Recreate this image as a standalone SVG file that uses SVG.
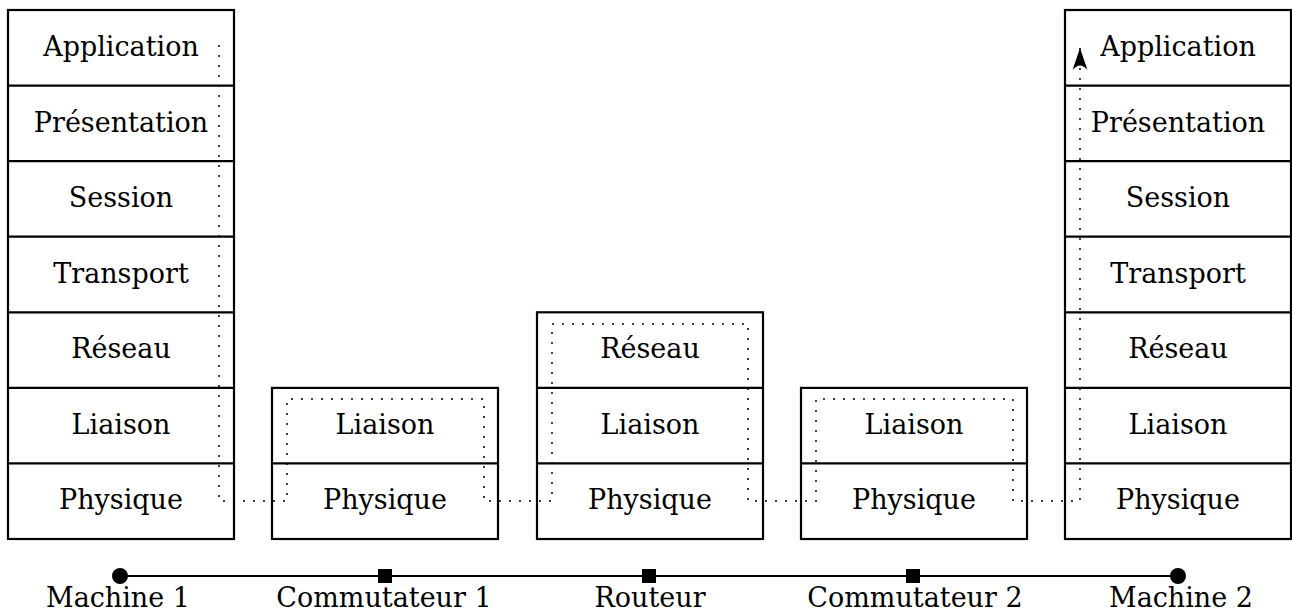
<svg xmlns="http://www.w3.org/2000/svg" width="1292" height="613" viewBox="0 0 1292 613">
<style>
.box{fill:#fff;stroke:#000;stroke-width:2.2}
.sep{stroke:#000;stroke-width:2.2}
.t{font-family:'DejaVu Serif',serif;font-size:27px;fill:#000;text-anchor:middle}
.dot{fill:none;stroke:#000;stroke-width:2;stroke-dasharray:0 10;stroke-linecap:round}
.net{stroke:#000;stroke-width:2}
</style>
<defs>
<marker id="ah" viewBox="0 0 22 16" refX="22" refY="8" markerWidth="22" markerHeight="16" orient="auto" markerUnits="userSpaceOnUse">
<path d="M22,8 L0,0.5 Q9,8 0,15.5 Z" fill="#000"/>
</marker>
</defs>
<rect width="1292" height="613" fill="#fff"/>
<g id="machine1">
<rect class="box" x="8" y="10" width="226" height="529"/>
<line class="sep" x1="8" y1="85.6" x2="234" y2="85.6"/>
<line class="sep" x1="8" y1="161.1" x2="234" y2="161.1"/>
<line class="sep" x1="8" y1="236.7" x2="234" y2="236.7"/>
<line class="sep" x1="8" y1="312.3" x2="234" y2="312.3"/>
<line class="sep" x1="8" y1="387.9" x2="234" y2="387.9"/>
<line class="sep" x1="8" y1="463.4" x2="234" y2="463.4"/>
<text class="t" x="121" y="56">Application</text>
<text class="t" x="121" y="132">Présentation</text>
<text class="t" x="121" y="207">Session</text>
<text class="t" x="121" y="283">Transport</text>
<text class="t" x="121" y="358">Réseau</text>
<text class="t" x="121" y="434">Liaison</text>
<text class="t" x="121" y="509">Physique</text>
</g>
<g id="commutateur1">
<rect class="box" x="272" y="387.9" width="226" height="151.1"/>
<line class="sep" x1="272" y1="463.4" x2="498" y2="463.4"/>
<text class="t" x="385" y="434">Liaison</text>
<text class="t" x="385" y="509">Physique</text>
</g>
<g id="routeur">
<rect class="box" x="537" y="312.3" width="226" height="226.7"/>
<line class="sep" x1="537" y1="387.9" x2="763" y2="387.9"/>
<line class="sep" x1="537" y1="463.4" x2="763" y2="463.4"/>
<text class="t" x="650" y="358">Réseau</text>
<text class="t" x="650" y="434">Liaison</text>
<text class="t" x="650" y="509">Physique</text>
</g>
<g id="commutateur2">
<rect class="box" x="801" y="387.9" width="226" height="151.1"/>
<line class="sep" x1="801" y1="463.4" x2="1027" y2="463.4"/>
<text class="t" x="914" y="434">Liaison</text>
<text class="t" x="914" y="509">Physique</text>
</g>
<g id="machine2">
<rect class="box" x="1065" y="10" width="226" height="529"/>
<line class="sep" x1="1065" y1="85.6" x2="1291" y2="85.6"/>
<line class="sep" x1="1065" y1="161.1" x2="1291" y2="161.1"/>
<line class="sep" x1="1065" y1="236.7" x2="1291" y2="236.7"/>
<line class="sep" x1="1065" y1="312.3" x2="1291" y2="312.3"/>
<line class="sep" x1="1065" y1="387.9" x2="1291" y2="387.9"/>
<line class="sep" x1="1065" y1="463.4" x2="1291" y2="463.4"/>
<text class="t" x="1178" y="56">Application</text>
<text class="t" x="1178" y="132">Présentation</text>
<text class="t" x="1178" y="207">Session</text>
<text class="t" x="1178" y="283">Transport</text>
<text class="t" x="1178" y="358">Réseau</text>
<text class="t" x="1178" y="434">Liaison</text>
<text class="t" x="1178" y="509">Physique</text>
</g>
<g id="connectors">
<path class="dot" d="M219,46 V501 H287 V399 H484 V501 H552 V324 H748 V501 H816 V399 H1013 V501 H1080 V48" marker-end="url(#ah)"/>
</g>
<g id="network">
<line class="net" x1="120" y1="576" x2="1178" y2="576"/>
<circle cx="120" cy="576" r="8" fill="#000"/>
<rect x="378" y="569" width="14" height="14" fill="#000"/>
<rect x="642" y="569" width="14" height="14" fill="#000"/>
<rect x="906" y="569" width="14" height="14" fill="#000"/>
<circle cx="1178" cy="576" r="8" fill="#000"/>
<text class="t" x="118" y="607">Machine 1</text>
<text class="t" x="384" y="607">Commutateur 1</text>
<text class="t" x="650" y="607">Routeur</text>
<text class="t" x="915" y="607">Commutateur 2</text>
<text class="t" x="1181" y="607">Machine 2</text>
</g>
</svg>
